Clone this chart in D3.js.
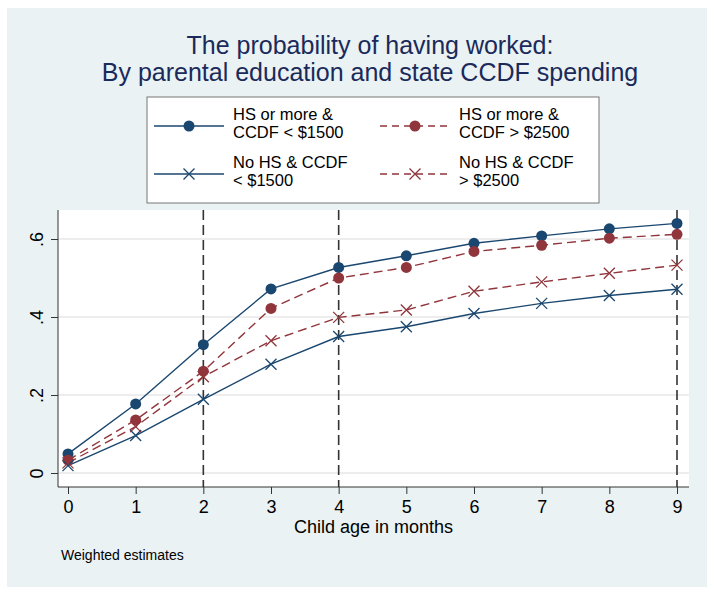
<!DOCTYPE html>
<html lang="en">
<head>
  <meta charset="UTF-8">
  <title>Probability of having worked</title>
  <script src="https://d3js.org/d3.v7.min.js"></script>
  <style>
    html, body { margin: 0; padding: 0; background: #fff; }
    svg { font-family: "Liberation Sans", Arial, sans-serif; display: block; }
  </style>
</head>
<body>
  <svg width="714" height="594"></svg>

  <script>
    // data
    const months = [0, 1, 2, 3, 4, 5, 6, 7, 8, 9];
    const hsLow   = [0.049, 0.177, 0.329, 0.472, 0.527, 0.557, 0.589, 0.608, 0.626, 0.640];
    const hsHigh  = [0.033, 0.136, 0.261, 0.422, 0.500, 0.527, 0.568, 0.584, 0.602, 0.612];
    const noHsLow = [0.019, 0.096, 0.189, 0.279, 0.350, 0.375, 0.409, 0.435, 0.455, 0.471];
    const noHsHigh= [0.026, 0.119, 0.247, 0.339, 0.399, 0.418, 0.466, 0.490, 0.512, 0.533];
    const yTicks = [0, 0.2, 0.4, 0.6];
    const refLines = [2, 4, 9];

    const navy = "#1a476f", maroon = "#90353b";

    const series = [
      { values: hsLow,    color: navy,   dash: null,  marker: "circle", label: ["HS or more &", "CCDF < $1500"] },
      { values: hsHigh,   color: maroon, dash: "9,5", marker: "circle", label: ["HS or more &", "CCDF > $2500"] },
      { values: noHsLow,  color: navy,   dash: null,  marker: "x",      label: ["No HS & CCDF", "< $1500"] },
      { values: noHsHigh, color: maroon, dash: "9,5", marker: "x",      label: ["No HS & CCDF", "> $2500"] }
    ];

    const svg = d3.select("svg");

    // outer graph region
    svg.append("rect")
      .attr("x", 7).attr("y", 8).attr("width", 700).attr("height", 579)
      .attr("fill", "#eaf2f3");

    // plot region
    const plot = { left: 58, right: 689, top: 210, bottom: 487 };
    const x = d3.scaleLinear().domain([0, 9]).range([68, 677]);
    const y = d3.scaleLinear().domain([0, 0.6]).range([473, 239]);

    svg.append("rect")
      .attr("x", plot.left).attr("y", plot.top)
      .attr("width", plot.right - plot.left).attr("height", plot.bottom - plot.top)
      .attr("fill", "#fff");

    // gridlines
    svg.append("g").selectAll("line")
      .data(yTicks)
      .join("line")
      .attr("x1", plot.left).attr("x2", plot.right)
      .attr("y1", d => y(d)).attr("y2", d => y(d))
      .attr("stroke", "#dcdcdc").attr("stroke-width", 1.2);

    // reference lines
    svg.append("g").selectAll("line")
      .data(refLines)
      .join("line")
      .attr("x1", d => x(d)).attr("x2", d => x(d))
      .attr("y1", plot.top).attr("y2", plot.bottom)
      .attr("stroke", "#333").attr("stroke-width", 1.6)
      .attr("stroke-dasharray", "10,5");

    // axes
    const xAxis = svg.append("g")
      .attr("transform", `translate(0,${plot.bottom})`)
      .call(d3.axisBottom(x).tickValues(months).tickFormat(d3.format("d")).tickSize(7).tickSizeOuter(0));
    xAxis.select(".domain").attr("d", `M${plot.left},0H${plot.right}`).attr("stroke", "#333");
    xAxis.selectAll(".tick line").attr("stroke", "#333");
    xAxis.selectAll(".tick text")
      .attr("font-size", 18).attr("fill", "#000").attr("dy", "0.9em");

    const yAxis = svg.append("g")
      .attr("transform", `translate(${plot.left},0)`)
      .call(d3.axisLeft(y).tickValues(yTicks)
        .tickFormat(d => d === 0 ? "0" : d3.format(".1f")(d).replace(/^0/, ""))
        .tickSize(7).tickSizeOuter(0));
    yAxis.select(".domain").attr("d", `M0,${plot.top}V${plot.bottom}`).attr("stroke", "#333");
    yAxis.selectAll(".tick line").attr("stroke", "#333");
    yAxis.selectAll(".tick text")
      .attr("font-size", 18).attr("fill", "#000")
      .attr("x", null).attr("dy", null)
      .attr("text-anchor", "middle")
      .attr("transform", "translate(-15,0) rotate(-90)")
      .attr("y", 0);
    svg.selectAll(".tick text").attr("font-family", "Liberation Sans, Arial, sans-serif");

    // lines and markers
    const line = d3.line().x((d, i) => x(months[i])).y(d => y(d));

    series.forEach(s => {
      svg.append("path")
        .datum(s.values)
        .attr("d", line)
        .attr("fill", "none")
        .attr("stroke", s.color)
        .attr("stroke-width", 1.4)
        .attr("stroke-dasharray", s.dash);
    });

    function drawMarker(g, type, color, cx, cy) {
      if (type === "circle") {
        g.append("circle").attr("cx", cx).attr("cy", cy).attr("r", 5.5).attr("fill", color);
      } else {
        const r = 5.5;
        g.append("path")
          .attr("d", `M${cx - r},${cy - r}L${cx + r},${cy + r}M${cx - r},${cy + r}L${cx + r},${cy - r}`)
          .attr("stroke", color).attr("stroke-width", 1.3).attr("fill", "none");
      }
    }

    series.forEach(s => {
      const g = svg.append("g");
      s.values.forEach((v, i) => drawMarker(g, s.marker, s.color, x(months[i]), y(v)));
    });

    // title
    const title = svg.append("g")
      .attr("text-anchor", "middle")
      .attr("font-size", 25)
      .attr("fill", "#1a2a5a");
    title.append("text").attr("x", 370).attr("y", 54).text("The probability of having worked:");
    title.append("text").attr("x", 370).attr("y", 81).text("By parental education and state CCDF spending");

    // legend
    const leg = svg.append("g");
    leg.append("rect")
      .attr("x", 147).attr("y", 97).attr("width", 452).attr("height", 106)
      .attr("fill", "#fff").attr("stroke", "#777").attr("stroke-width", 1);

    const legPos = [
      { kx: 154, ky: 126 }, { kx: 380, ky: 126 },
      { kx: 154, ky: 174 }, { kx: 380, ky: 174 }
    ];
    series.forEach((s, i) => {
      const p = legPos[i];
      leg.append("line")
        .attr("x1", p.kx).attr("x2", p.kx + 70)
        .attr("y1", p.ky).attr("y2", p.ky)
        .attr("stroke", s.color).attr("stroke-width", 1.4)
        .attr("stroke-dasharray", s.dash ? "7,5" : null);
      drawMarker(leg, s.marker, s.color, p.kx + 35, p.ky);
      leg.append("text")
        .attr("x", p.kx + 79).attr("y", p.ky - 6)
        .attr("font-size", 16.5).attr("fill", "#000")
        .text(s.label[0]);
      leg.append("text")
        .attr("x", p.kx + 79).attr("y", p.ky + 12)
        .attr("font-size", 16.5).attr("fill", "#000")
        .text(s.label[1]);
    });

    // axis title and note
    svg.append("text")
      .attr("x", (plot.left + plot.right) / 2).attr("y", 533)
      .attr("text-anchor", "middle")
      .attr("font-size", 18).attr("fill", "#000")
      .text("Child age in months");

    svg.append("text")
      .attr("x", 61).attr("y", 560)
      .attr("font-size", 14).attr("fill", "#000")
      .text("Weighted estimates");
  </script>
</body>
</html>
